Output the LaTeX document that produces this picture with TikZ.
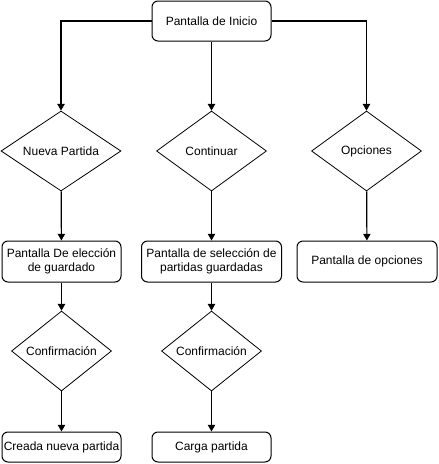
\documentclass[tikz,border=0pt]{standalone}
\usepackage{fontspec}
\setmainfont{Liberation Sans}
\usetikzlibrary{shapes.geometric,arrows.meta}
\tikzset{
    screen/.style={draw, rounded corners=4.5pt, line width=0.75pt, align=center, inner sep=1pt,
        font=\fontsize{9}{10.5}\selectfont},
    choice/.style={draw, diamond, line width=0.6pt, inner sep=0pt, aspect=1.4,
        font=\fontsize{9}{10.5}\selectfont},
    flow/.style={-{Triangle[length=5pt,width=5.5pt]}, line width=0.9pt}
}
\begin{document}
\begin{tikzpicture}[x=0.75pt, y=-0.75pt]
    \useasboundingbox (0,0) rectangle (439,464);

    % Start screen
    \node[screen, minimum width=89.25pt, minimum height=30pt] (inicio) at (211.5,21) {Pantalla de Inicio};

    % Menu choices
    \node[choice, minimum width=90pt, minimum height=60pt] (nueva) at (61,151) {Nueva Partida};
    \node[choice, minimum width=82.5pt, minimum height=60pt] (continuar) at (211.5,151) {Continuar};
    \node[choice, minimum width=82.5pt, minimum height=60pt] (opciones) at (366.5,151) {Opciones};

    \draw[flow] (inicio.west) -| (nueva.north);
    \draw[flow] (inicio) -- (continuar);
    \draw[flow] (inicio.east) -| (opciones.north);

    % Second level screens
    \node[screen, minimum width=89.25pt, minimum height=30.75pt] (eleccion) at (61.5,261.5) {Pantalla De elección\\de guardado};
    \node[screen, minimum width=105pt, minimum height=30.75pt] (seleccion) at (211.5,261.5) {Pantalla de selección de\\partidas guardadas};
    \node[screen, minimum width=105pt, minimum height=30.75pt] (pantopc) at (367,261.5) {Pantalla de opciones};

    \draw[flow] (nueva) -- (eleccion);
    \draw[flow] (continuar) -- (seleccion);
    \draw[flow] (opciones) -- (pantopc);

    % Confirmation
    \node[choice, minimum width=75pt, minimum height=60pt] (conf1) at (61.5,351) {Confirmación};
    \node[choice, minimum width=75pt, minimum height=60pt] (conf2) at (211.5,351) {Confirmación};

    \draw[flow] (eleccion) -- (conf1);
    \draw[flow] (seleccion) -- (conf2);

    % Results
    \node[screen, minimum width=89.25pt, minimum height=22.5pt] (creada) at (61.5,447) {Creada nueva partida};
    \node[screen, minimum width=89.25pt, minimum height=22.5pt] (carga) at (211.5,447) {Carga partida};

    \draw[flow] (conf1) -- (creada);
    \draw[flow] (conf2) -- (carga);
\end{tikzpicture}
\end{document}
